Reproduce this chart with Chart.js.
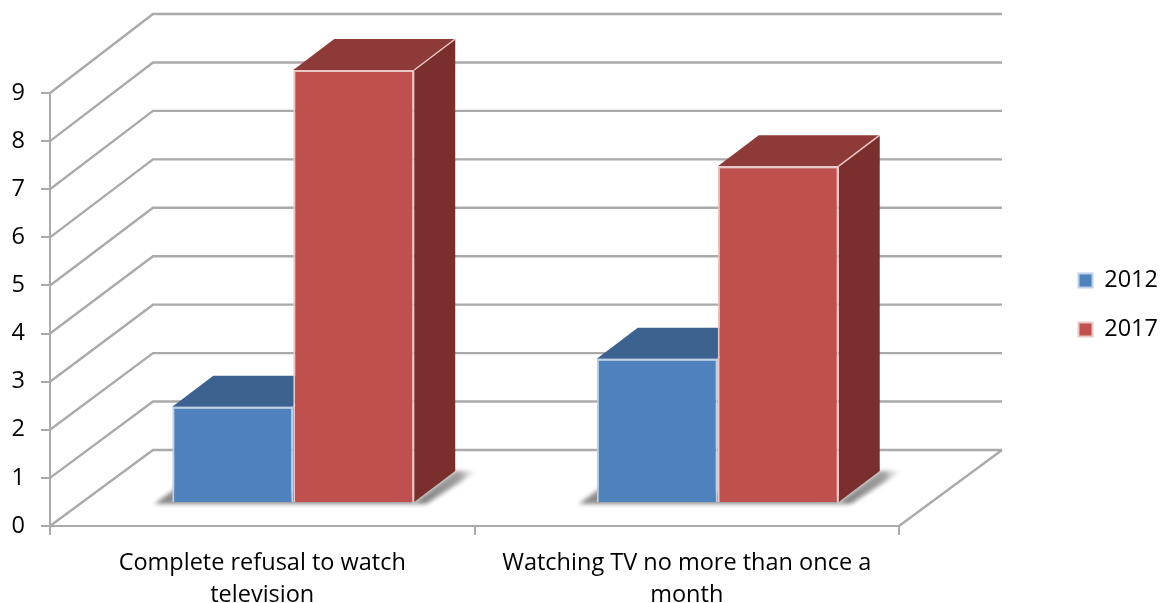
<!DOCTYPE html>
<html lang="en">

<head>
    <meta charset="UTF-8">
    <title>TV viewing 2012 and 2017</title>
    <script src="https://cdn.jsdelivr.net/npm/chart.js"></script>
    <style>
        body {
            margin: 0;
            padding: 0;
            background-color: #ffffff;
        }

        canvas {
            display: block;
        }
    </style>
</head>

<body>
    <canvas id="tvChart" width="1160" height="603"></canvas>

    <script>
        const categories = [
            ['Complete refusal to watch', 'television'],
            ['Watching TV no more than once a', 'month']
        ];
        const seriesNames = ['2012', '2017'];
        const values2012 = [2, 3];
        const values2017 = [9, 7];
        const yTicks = [0, 1, 2, 3, 4, 5, 6, 7, 8, 9];

        const frontColors = ['#4f81bd', '#c0504d'];
        const topColors = ['#3c6290', '#8e3a38'];
        const sideColors = ['#325277', '#7b2f2d'];
        const edgeColors = ['#bcd0e8', '#e8c8c6'];

        const gridColor = '#aaaaaa';
        const fontName = 'Open Sans';
        const fontSize = 23.5;

        // the 3d look: wall depth, where the bars stand on the floor, bar depth
        const wallX = 103, wallY = -76, wallTilt = -3;
        const barShiftX = 31, barShiftY = -23;
        const barDepthX = 41, barDepthY = -31;

        function poly(ctx, points, fill) {
            ctx.beginPath();
            points.forEach((p, i) => i ? ctx.lineTo(p[0], p[1]) : ctx.moveTo(p[0], p[1]));
            ctx.closePath();
            ctx.fillStyle = fill;
            ctx.fill();
        }

        function drawWalls(chart) {
            const ctx = chart.ctx;
            const area = chart.chartArea;
            const y = chart.scales.y;
            ctx.save();
            ctx.strokeStyle = gridColor;
            ctx.lineWidth = 2.4;
            yTicks.forEach(v => {
                const py = y.getPixelForValue(v) + wallY + wallTilt * v / y.max;
                ctx.beginPath();
                ctx.moveTo(area.left, y.getPixelForValue(v));
                ctx.lineTo(area.left + wallX, py);
                ctx.lineTo(area.right + wallX, py);
                ctx.stroke();
            });
            ctx.beginPath();
            ctx.moveTo(area.right, area.bottom);
            ctx.lineTo(area.right + wallX, area.bottom + wallY);
            ctx.stroke();
            ctx.restore();
        }

        function drawShadow(chart, ctx) {
            const first = chart.getDatasetMeta(0).data;
            const last = chart.getDatasetMeta(1).data;
            first.forEach((bar, i) => {
                const left = bar.x - bar.width / 2;
                const right = last[i].x + last[i].width / 2;
                const base = bar.base;
                const grad = ctx.createLinearGradient(right, 0, right + barDepthX + 24, 0);
                grad.addColorStop(0, '#808080');
                grad.addColorStop(0.7, '#a0a0a0');
                grad.addColorStop(1, 'rgba(220,220,220,0)');
                ctx.save();
                ctx.filter = 'blur(2px)';
                poly(ctx, [[left - 18, base + 2], [left + 4, base - 14], [right, base - 4], [right, base + 2]], '#8a8a8a');
                poly(ctx, [
                    [right - 2, base + 2], [right + 12, base + 2],
                    [right + barDepthX + 22, base + barDepthY], [right + barDepthX, base + barDepthY]
                ], grad);
                ctx.restore();
            });
        }

        function drawBarFaces(chart, ctx) {
            seriesNames.forEach((name, s) => {
                chart.getDatasetMeta(s).data.forEach(bar => {
                    const l = bar.x - bar.width / 2;
                    const r = bar.x + bar.width / 2;
                    const dx = barDepthX, dy = barDepthY;
                    poly(ctx, [[l, bar.y], [l + dx, bar.y + dy], [r + dx, bar.y + dy], [r, bar.y]], topColors[s]);
                    poly(ctx, [[r, bar.y], [r + dx, bar.y + dy], [r + dx, bar.base + dy], [r, bar.base]], sideColors[s]);
                    ctx.beginPath();
                    ctx.moveTo(r, bar.y);
                    ctx.lineTo(r + dx, bar.y + dy);
                    ctx.strokeStyle = edgeColors[s];
                    ctx.lineWidth = 1.5;
                    ctx.stroke();
                });
            });
        }

        const box3d = {
            id: 'box3d',
            afterLayout(chart) {
                // legend sits right of the plot, away from its layout slot
                const legend = chart.legend;
                const w = legend.width, h = legend.height;
                legend.left = 1053;
                legend.right = legend.left + w;
                legend.top = 305 - h / 2;
                legend.bottom = legend.top + h;
            },
            beforeDatasetsDraw(chart) {
                const ctx = chart.ctx;
                drawWalls(chart);
                ctx.save();
                ctx.translate(barShiftX, barShiftY);
                drawShadow(chart, ctx);
                drawBarFaces(chart, ctx);
            },
            afterDatasetsDraw(chart) {
                chart.ctx.restore();
            }
        };

        const seriesValues = [values2012, values2017];

        new Chart(document.getElementById('tvChart').getContext('2d'), {
            type: 'bar',
            data: {
                labels: categories,
                datasets: seriesNames.map((name, s) => ({
                    label: name,
                    data: seriesValues[s],
                    backgroundColor: frontColors[s],
                    borderColor: edgeColors[s],
                    borderWidth: 2,
                    barPercentage: 1,
                    categoryPercentage: 0.57,
                    clip: false
                }))
            },
            options: {
                responsive: false,
                animation: false,
                layout: { padding: { top: 93, right: 146, left: 0, bottom: 0 } },
                plugins: {
                    tooltip: { enabled: false },
                    legend: {
                        position: 'right',
                        labels: {
                            boxWidth: 14,
                            boxHeight: 14,
                            padding: 25.5,
                            color: '#000000',
                            font: { family: fontName, size: fontSize }
                        }
                    }
                },
                scales: {
                    x: {
                        afterFit: s => { s.height = 77; },
                        border: { color: gridColor, width: 2 },
                        grid: { offset: true, drawOnChartArea: false, color: gridColor, lineWidth: 2, tickLength: 9 },
                        ticks: {
                            color: '#000000',
                            padding: 13,
                            maxRotation: 0,
                            font: { family: fontName, size: fontSize, lineHeight: 1.34 }
                        }
                    },
                    y: {
                        min: 0,
                        max: 9,
                        afterFit: s => { s.width = 50; },
                        border: { color: gridColor, width: 2 },
                        grid: { drawOnChartArea: false, color: gridColor, lineWidth: 2, tickLength: 9 },
                        ticks: {
                            stepSize: 1,
                            color: '#000000',
                            padding: 16,
                            font: { family: fontName, size: fontSize }
                        }
                    }
                }
            },
            plugins: [box3d]
        });
    </script>
</body>

</html>
